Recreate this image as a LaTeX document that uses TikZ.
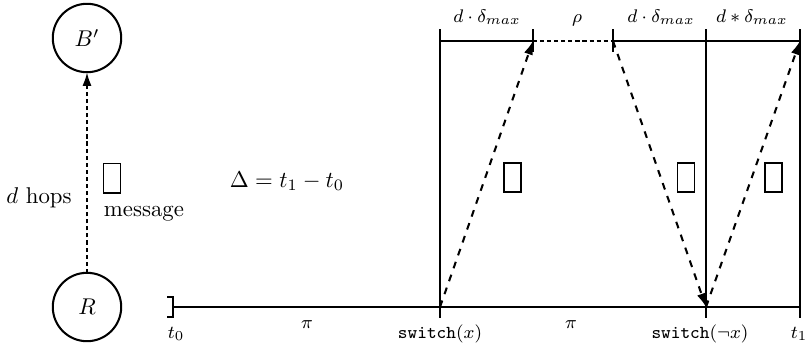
\documentclass[tikz,border=0pt]{standalone}
\usetikzlibrary{arrows.meta}
\begin{document}
\begin{tikzpicture}[x=0.4386pt,y=-0.4386pt,
  every node/.style={inner sep=0pt,outer sep=0pt},
  lw/.style={line width=0.9pt},
  agent/.style={circle,draw,lw,minimum size=30pt},
  msgbox/.style={draw,line width=0.8pt,minimum width=7.5pt,minimum height=12.8pt},
  dotline/.style={lw,dash pattern=on 1.8pt off 1.3pt},
  dasharrow/.style={lw,dashed,-{Latex[length=6pt,width=4pt]}},
  dotarrow/.style={dotline,-{Latex[length=6pt,width=4pt]}},
  lab/.style={font=\footnotesize,anchor=base}]
\useasboundingbox (0,0) rectangle (805,346);

% left part
\node[agent] (B) at (87,38) {$B'$};
\node[agent] (R) at (87,307) {$R$};
\draw[dotarrow] (R) -- (B);
\node[anchor=base] (hops) at (39,203) {$d$ hops};
\node[msgbox] (m0) at (112,178) {};
\node[anchor=base] (msg) at (144,216) {message};
\node[anchor=base] (delta) at (287,187) {$\Delta = t_1 - t_0$};

% timeline coordinates
\coordinate (t0) at (173,307);
\coordinate (s1) at (440,307);
\coordinate (s2) at (706,307);
\coordinate (t1) at (800,307);
\coordinate (a0) at (440,41);
\coordinate (a1) at (533,41);
\coordinate (a2) at (613,41);
\coordinate (a3) at (706,41);
\coordinate (a4) at (800,41);

% bracket and timeline
\draw[lw] (167,297) -- (173,297) -- (173,317) -- (167,317);
\draw[lw] (t0) -- (t1);

% verticals
\draw[lw] (440,29) -- (440,318);
\draw[lw] (706,29) -- (706,318);
\draw[lw] (800,29) -- (800,318);
\draw[lw] (533,29) -- (533,52);
\draw[lw] (613,29) -- (613,52);

% top line
\draw[lw] (a0) -- (a1);
\draw[dotline] (a1) -- (a2);
\draw[lw] (a2) -- (a4);

% dashed message arrows
\draw[dasharrow] (s1) -- (a1);
\draw[dasharrow] (a2) -- (s2);
\draw[dasharrow] (s2) -- (a4);

% message boxes
\node[msgbox] (m1) at (512.5,177.5) {};
\node[msgbox] (m2) at (686,177.5) {};
\node[msgbox] (m3) at (773.5,177.5) {};

% top labels
\node[lab] (l1) at (487,22) {$d\cdot\delta_{max}$};
\node[lab] (l2) at (577,22) {$\rho$};
\node[lab] (l3) at (661,22) {$d\cdot\delta_{max}$};
\node[lab] (l4) at (752,22) {$d*\delta_{max}$};

% bottom labels
\node[lab] (lt0) at (176,338) {$t_0$};
\node[lab] (lp1) at (307,328) {$\pi$};
\node[lab] (ls1) at (440,338) {\texttt{switch}$(x)$};
\node[lab] (lp2) at (571,328) {$\pi$};
\node[lab] (ls2) at (700,338) {\texttt{switch}$(\neg x)$};
\node[lab] (lt1) at (799,338) {$t_1$};
\end{tikzpicture}
\end{document}
